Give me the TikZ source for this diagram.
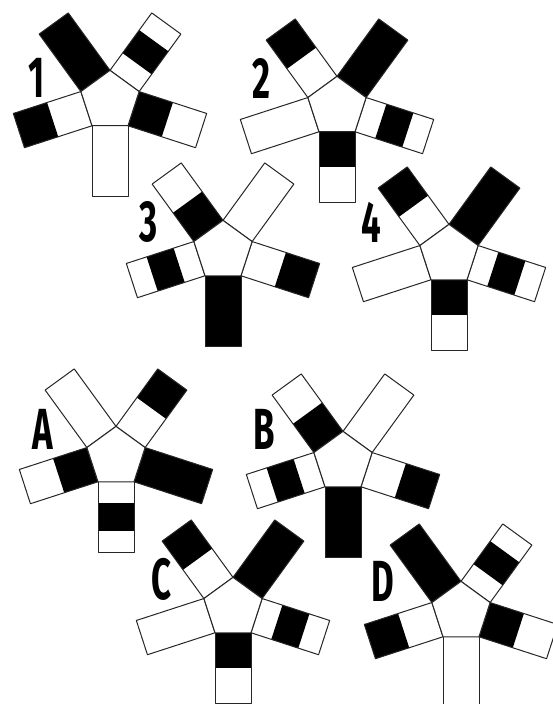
\documentclass[tikz,border=0pt]{standalone}
\usepackage{fontspec}
\newfontfamily\lblfont[FakeStretch=0.6]{Fira Sans}

\tikzset{
  outline/.style={draw=black!85, line width=1pt, line join=round},
  cell/.style={fill=black},
  figlabel/.style={font=\lblfont\bfseries\fontsize{58}{58}\selectfont, inner sep=0pt}
}

% one arm: angle, black parts as fractions of the arm
\newcommand{\arm}[2]{%
  \begin{scope}[rotate=#1]
    \foreach \p/\q in {#2}
      \fill[cell] ({24.8+71*\p},-18) rectangle ({24.8+71*\q},18);
    \draw[outline] (24.8,-18) rectangle (95.8,18);
  \end{scope}}
\newcommand{\penta}{%
  \draw[outline, fill=white] (90:30.6) -- (162:30.6) -- (234:30.6) -- (306:30.6) -- (18:30.6) -- cycle;}

\begin{document}
\begin{tikzpicture}[x=1pt, y=1pt]
    \useasboundingbox (0,0) rectangle (553,704);

    % figure 1
    \begin{scope}[shift={(110,603)}]
        \arm{126}{0/1} \arm{54}{0.3/0.7} \arm{198}{0.5/1} \arm{342}{0/0.5} \arm{270}{0/0}
        \penta
    \end{scope}
    \node[figlabel] (lbl1) at (37,626) {1};

    % figure 2
    \begin{scope}[shift={(337,597)}]
        \arm{126}{0.5/1} \arm{54}{0/1} \arm{198}{0/0} \arm{342}{0.3/0.7} \arm{270}{0/0.5}
        \penta
    \end{scope}
    \node[figlabel] (lbl2) at (261,626) {2};

    % figure 3
    \begin{scope}[shift={(223,453)}]
        \arm{126}{0/0.5} \arm{54}{0/0} \arm{198}{0.3/0.7} \arm{342}{0.5/1} \arm{270}{0/1}
        \penta
    \end{scope}
    \node[figlabel] (lbl3) at (149,482) {3};

    % figure 4
    \begin{scope}[shift={(449,449)}]
        \arm{126}{0.5/1} \arm{54}{0/1} \arm{198}{0/0} \arm{342}{0.3/0.7} \arm{270}{0/0.5}
        \penta
    \end{scope}
    \node[figlabel] (lbl4) at (371,482) {4};

    % answer A
    \begin{scope}[shift={(116,247)}]
        \arm{126}{0/0} \arm{54}{0.5/1} \arm{198}{0/0.5} \arm{342}{0/1} \arm{270}{0.3/0.7}
        \penta
    \end{scope}
    \node[figlabel] (lblA) at (43,275) {A};

    % answer B
    \begin{scope}[shift={(343,242)}]
        \arm{126}{0/0.5} \arm{54}{0/0} \arm{198}{0.3/0.7} \arm{342}{0.5/1} \arm{270}{0/1}
        \penta
    \end{scope}
    \node[figlabel] (lblB) at (264,275) {B};

    % answer C
    \begin{scope}[shift={(233,96)}]
        \arm{126}{0.5/1} \arm{54}{0/1} \arm{198}{0/0} \arm{342}{0.3/0.7} \arm{270}{0/0.5}
        \penta
    \end{scope}
    \node[figlabel] (lblC) at (162,125) {C};

    % answer D
    \begin{scope}[shift={(461,92)}]
        \arm{126}{0/1} \arm{54}{0.3/0.7} \arm{198}{0.5/1} \arm{342}{0/0.5} \arm{270}{0/0}
        \penta
    \end{scope}
    \node[figlabel] (lblD) at (383,123) {D};
\end{tikzpicture}
\end{document}
